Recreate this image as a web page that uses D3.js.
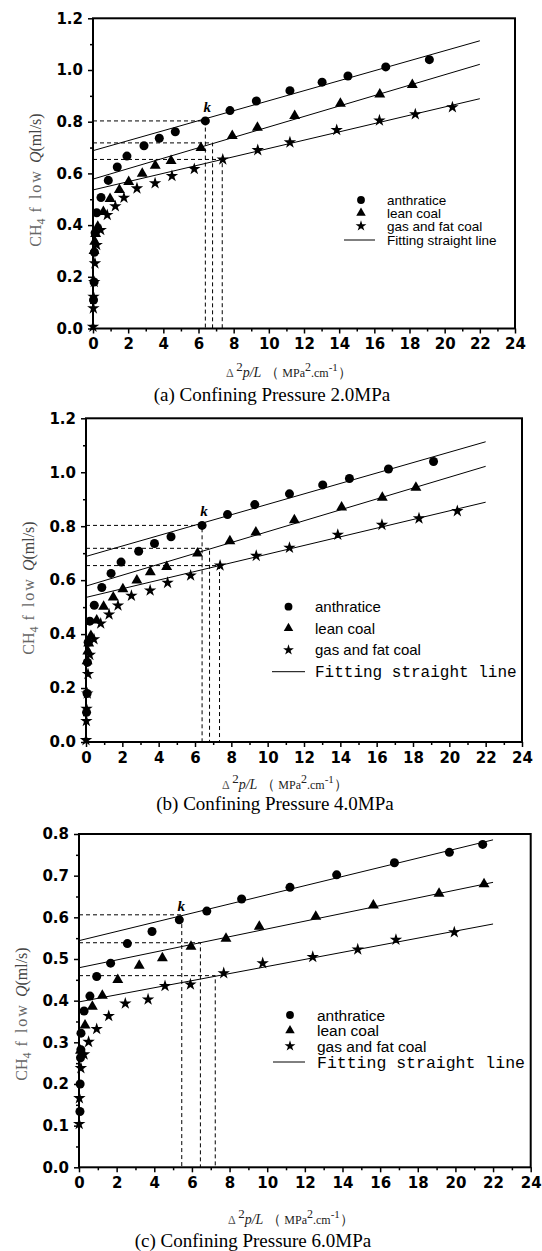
<!DOCTYPE html>
<html>
<head>
<meta charset="utf-8">
<script src="https://cdnjs.cloudflare.com/ajax/libs/d3/7.8.5/d3.min.js"></script>
<style>
  body { margin: 0; background: #fff; }
  svg { display: block; }
</style>
</head>
<body>
<svg id="chart" width="542" height="1251"></svg>
<script>
// points: [Δ²p/L, Q]
// (b) shows the same measured points and fits as (a)
var anthr2 = [[0.03,0.11],[0.06,0.18],[0.08,0.295],[0.12,0.37],[0.21,0.448],[0.455,0.507],[0.87,0.573],[1.38,0.625],[1.93,0.667],[2.9,0.707],[3.77,0.736],[4.68,0.761],[6.39,0.803],[7.79,0.843],[9.29,0.880],[11.2,0.920],[13.03,0.953],[14.5,0.977],[16.65,1.012],[19.13,1.040]];
var lean2 = [[0.06,0.30],[0.1,0.336],[0.15,0.366],[0.27,0.394],[0.59,0.451],[0.97,0.502],[1.5,0.536],[2.03,0.567],[2.8,0.599],[3.54,0.630],[4.44,0.649],[6.14,0.699],[7.92,0.745],[9.35,0.777],[11.47,0.823],[14.07,0.870],[16.31,0.906],[18.16,0.943]];
var gas2 = [[0.0,0.007],[0.02,0.078],[0.03,0.123],[0.07,0.18],[0.11,0.252],[0.21,0.323],[0.44,0.381],[0.81,0.439],[1.27,0.473],[1.76,0.506],[2.5,0.542],[3.53,0.562],[4.49,0.590],[5.76,0.617],[7.38,0.654],[9.37,0.690],[11.2,0.720],[13.86,0.768],[16.29,0.805],[18.33,0.829],[20.44,0.856]];

var anthr6 = [[0.05,0.134],[0.06,0.20],[0.08,0.263],[0.1,0.282],[0.106,0.322],[0.27,0.375],[0.58,0.411],[0.94,0.458],[1.68,0.490],[2.57,0.537],[3.88,0.566],[5.33,0.594],[6.79,0.615],[8.64,0.644],[11.21,0.672],[13.69,0.702],[16.76,0.731],[19.68,0.756],[21.45,0.775]];
var lean6 = [[0.08,0.28],[0.32,0.341],[0.71,0.386],[1.24,0.412],[2.06,0.450],[3.2,0.484],[4.43,0.502],[5.95,0.530],[7.81,0.549],[9.58,0.578],[12.58,0.602],[15.64,0.629],[19.13,0.657],[21.52,0.680]];
var gas6 = [[0.01,0.104],[0.02,0.166],[0.1,0.238],[0.27,0.271],[0.51,0.301],[0.94,0.332],[1.58,0.363],[2.46,0.393],[3.67,0.403],[4.57,0.435],[5.92,0.439],[7.69,0.466],[9.76,0.490],[12.42,0.505],[14.81,0.523],[16.84,0.546],[19.94,0.564]];

// fitted straight lines: Q at x=0 and at x=22
var fitX = [0, 22];
var fit2 = [[0.688,1.113],[0.578,1.022],[0.536,0.889]];
var fit6 = [[0.544,0.786],[0.479,0.684],[0.397,0.584]];

// dashed read-off guides [x, Q]
var guide2 = [[6.39,0.803],[6.8,0.718],[7.35,0.654]];
var guide6 = [[5.46,0.606],[6.45,0.539],[7.24,0.46]];
var kPoint2 = [6.39,0.803];
var kPoint6 = [5.33,0.594];

var xTicks = d3.range(0, 25, 2);
var seriesNames = ["anthratice", "lean coal", "gas and fat coal", "Fitting straight line"];
var captions = ["(a) Confining Pressure 2.0MPa", "(b) Confining Pressure 4.0MPa", "(c) Confining Pressure 6.0MPa"];

var svg = d3.select("#chart");
var symbols = [d3.symbolCircle, d3.symbolTriangle, d3.symbolStar];
var symSize = [64, 52, 48];

function drawPanel(p) {
  var x = d3.scaleLinear().domain([0, 24]).range([p.left, p.right]);
  var y = d3.scaleLinear().domain([0, p.yMax]).range([p.bottom, p.top]);
  var g = svg.append("g");

  // x axis, major + minor
  g.append("g").attr("transform", "translate(0," + p.bottom + ")")
    .call(d3.axisBottom(x).tickValues(xTicks).tickSize(5).tickPadding(5).tickFormat(d3.format("d")))
    .call(s => s.select(".domain").remove());
  g.append("g").attr("transform", "translate(0," + p.bottom + ")")
    .call(d3.axisBottom(x).tickValues(d3.range(1, 24, 2)).tickSize(3).tickFormat(""))
    .call(s => s.select(".domain").remove());

  // y axis
  var yt = d3.range(0, p.yMax + 1e-9, p.yStep);
  g.append("g").attr("transform", "translate(" + p.left + ",0)")
    .call(d3.axisLeft(y).tickValues(yt).tickSize(5).tickPadding(5).tickFormat(d3.format(".1f")))
    .call(s => s.select(".domain").remove());
  g.append("g").attr("transform", "translate(" + p.left + ",0)")
    .call(d3.axisLeft(y).tickValues(yt.slice(1).map(v => v - p.yStep / 2)).tickSize(3).tickFormat(""))
    .call(s => s.select(".domain").remove());

  g.selectAll(".tick line").attr("stroke", "#000").attr("stroke-width", 1.5);
  g.selectAll(".tick text").attr("fill", "#000")
    .style("font-family", "'DejaVu Sans', sans-serif").style("font-weight", "bold").style("font-size", "15px");

  g.append("rect").attr("x", p.left).attr("y", p.top)
    .attr("width", p.right - p.left).attr("height", p.bottom - p.top)
    .attr("fill", "none").attr("stroke", "#000").attr("stroke-width", 2);

  // dashed guides
  p.guides.forEach(function(d) {
    g.append("path")
      .attr("d", d3.line()([[x(0), y(d[1])], [x(d[0]), y(d[1])], [x(d[0]), y(0)]]))
      .attr("fill", "none").attr("stroke", "#000").attr("stroke-width", 1)
      .attr("stroke-dasharray", "4,3");
  });

  // fits
  p.fits.forEach(function(f) {
    g.append("path")
      .attr("d", d3.line()(fitX.map((v, i) => [x(v), y(f[i])])))
      .attr("fill", "none").attr("stroke", "#000").attr("stroke-width", 1);
  });

  // points
  p.series.forEach(function(data, i) {
    g.selectAll(null).data(data).enter().append("path")
      .attr("transform", d => "translate(" + x(d[0]) + "," + y(d[1]) + ")")
      .attr("d", d3.symbol().type(symbols[i]).size(symSize[i]))
      .attr("fill", "#000");
  });

  g.append("text").attr("x", x(p.k[0]) + 2).attr("y", y(p.k[1]) - 9)
    .attr("text-anchor", "middle")
    .style("font-family", "'Liberation Serif', serif").style("font-style", "italic")
    .style("font-weight", "bold").style("font-size", "15px").text("k");

  // legend
  var L = p.legend;
  seriesNames.forEach(function(name, i) {
    var ry = L.rows[i];
    if (i < 3) {
      g.append("path").attr("transform", "translate(" + L.mx + "," + ry + ")")
        .attr("d", d3.symbol().type(symbols[i]).size(symSize[i] * 0.75)).attr("fill", "#000");
    } else {
      g.append("line").attr("x1", L.lx1).attr("x2", L.lx2).attr("y1", ry).attr("y2", ry)
        .attr("stroke", "#000").attr("stroke-width", 1);
    }
    var t = g.append("text").attr("x", L.tx).attr("y", ry).attr("dy", "0.36em").text(name);
    if (i === 3 && L.mono) {
      t.style("font-family", "'Liberation Mono', monospace").style("font-size", L.monoSize + "px");
    } else {
      t.style("font-family", "'Liberation Sans', Arial, sans-serif").style("font-size", L.size + "px");
    }
  });

  // y title
  var yt2 = g.append("text")
    .attr("transform", "translate(" + p.yTitle[0] + "," + p.yTitle[1] + ") rotate(-90)")
    .attr("text-anchor", "middle")
    .style("font-family", "'Liberation Serif', serif").style("font-size", "16px").attr("fill", "#666");
  yt2.append("tspan").text("CH");
  yt2.append("tspan").attr("dy", 4).style("font-size", "12px").text("4");
  yt2.append("tspan").attr("dy", -4).style("letter-spacing", "2px").text("  f low  ");
  yt2.append("tspan").style("font-style", "italic").attr("fill", "#444").text("Q");
  yt2.append("tspan").attr("fill", "#444").text("(ml/s)");

  // x title
  var xt = g.append("text").attr("x", p.xTitle[0]).attr("y", p.xTitle[1])
    .attr("text-anchor", "middle")
    .style("font-family", "'Liberation Serif', serif").style("font-size", "14px").attr("fill", "#222");
  xt.append("tspan").style("font-size", "12px").attr("fill", "#555").text("\u0394 ");
  xt.append("tspan").attr("dy", -6).style("font-size", "13px").text("2");
  xt.append("tspan").attr("dy", 6).style("font-style", "italic").text("p/L");
  xt.append("tspan").text(" \uFF08 ");
  xt.append("tspan").style("font-size", "12px").text("MPa");
  xt.append("tspan").attr("dy", -6).style("font-size", "12px").text("2");
  xt.append("tspan").attr("dy", 6).style("font-size", "12px").text(".cm");
  xt.append("tspan").attr("dy", -6).style("font-size", "11px").text("-1");
  xt.append("tspan").attr("dy", 6).text("\uFF09");

  g.append("text").attr("x", p.caption[0]).attr("y", p.caption[1])
    .attr("text-anchor", "middle")
    .style("font-family", "'Liberation Serif', serif").style("font-size", "19px")
    .text(p.captionText);
}

drawPanel({
  left: 93, right: 515, top: 18.3, bottom: 328.5, yMax: 1.2, yStep: 0.2,
  series: [anthr2, lean2, gas2], fits: fit2, guides: guide2, k: kPoint2,
  legend: { rows: [200, 213, 226, 240], mx: 361, tx: 387, lx1: 344, lx2: 375, size: 13.5, mono: false },
  yTitle: [41, 180], xTitle: [289, 377], caption: [272, 401], captionText: captions[0]
});
drawPanel({
  left: 86, right: 522, top: 418.3, bottom: 742, yMax: 1.2, yStep: 0.2,
  series: [anthr2, lean2, gas2], fits: fit2, guides: guide2, k: kPoint2,
  legend: { rows: [606.7, 628.3, 650, 671.7], mx: 288.5, tx: 315, lx1: 272, lx2: 305, size: 15, mono: true, monoSize: 16 },
  yTitle: [34, 588], xTitle: [285, 789], caption: [275, 810], captionText: captions[1]
});
drawPanel({
  left: 79, right: 530.7, top: 834, bottom: 1167.3, yMax: 0.8, yStep: 0.1,
  series: [anthr6, lean6, gas6], fits: fit6, guides: guide6, k: kPoint6,
  legend: { rows: [1015, 1030.5, 1046, 1062], mx: 290, tx: 317, lx1: 273, lx2: 305, size: 15.5, mono: true, monoSize: 16.5 },
  yTitle: [27, 1014], xTitle: [291, 1224], caption: [253, 1247], captionText: captions[2]
});
</script>
</body>
</html>
